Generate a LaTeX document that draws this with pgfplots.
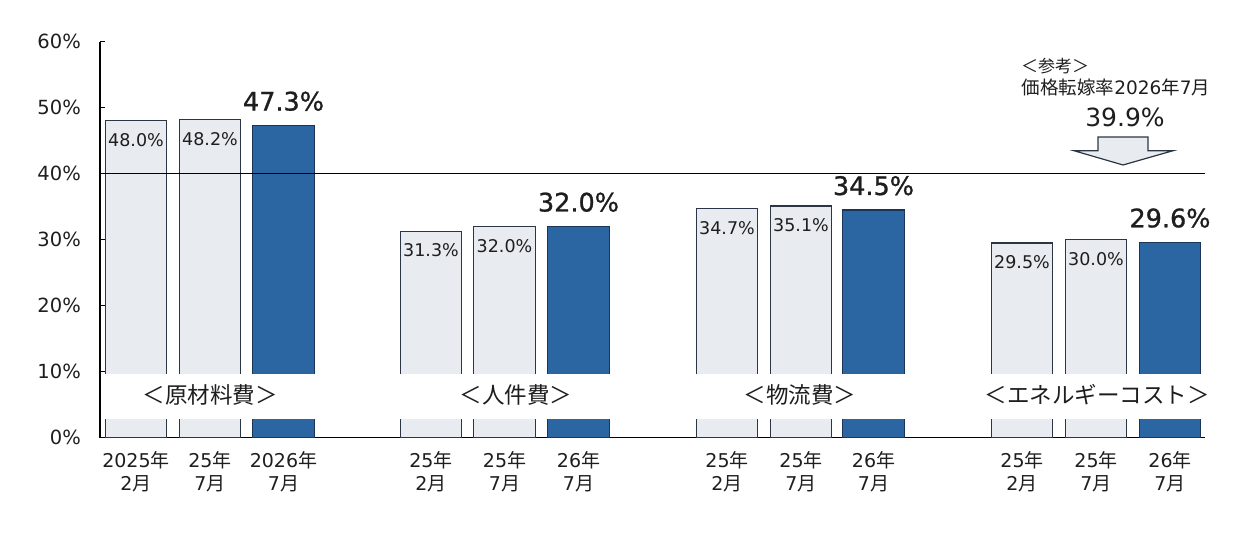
\documentclass[border=0pt]{standalone}
\usepackage{pgfplots}
\pgfplotsset{compat=1.18}
\usepackage{fontspec}
\setmainfont{DejaVu Sans}
\newfontfamily\jp{Noto Sans CJK JP}
\newfontfamily\semib[FakeBold=1]{DejaVu Sans}
\definecolor{lightbar}{HTML}{E8EBEF}
\definecolor{lightedge}{HTML}{2A3646}
\definecolor{darkbar}{HTML}{2B66A3}
\definecolor{darkedge}{HTML}{1B3556}
\definecolor{txt}{HTML}{1E1E1E}
\begin{document}
\begin{tikzpicture}[x=1pt,y=1pt]
\useasboundingbox (0,0) rectangle (1240,543);
\begin{axis}[
  at={(100pt,105.3pt)}, anchor=south west,
  scale only axis, width=1105pt, height=396pt,
  xmin=100, xmax=1205, ymin=0, ymax=60,
  axis lines*=left,
  axis line style={black, line width=1.5pt},
  clip=false,
  ybar, bar width=61.5,
  /pgf/number format/assume math mode=true,
  ytick={0,10,...,60},
  yticklabels={0\%,10\%,20\%,30\%,40\%,50\%,60\%},
  tick align=inside,
  major tick length=5pt,
  ytick style={black, line width=1.2pt},
  yticklabel style={anchor=east, inner sep=0pt, xshift=-19pt, font=\fontsize{19.5}{22}\selectfont, text=txt},
  xtick={136,210,283.5,431,504.5,578.5,727,801,873.5,1022,1096,1170},
  xticklabels={
    {2025{\jp 年}\\2{\jp 月}},{25{\jp 年}\\7{\jp 月}},{2026{\jp 年}\\7{\jp 月}},
    {25{\jp 年}\\2{\jp 月}},{25{\jp 年}\\7{\jp 月}},{26{\jp 年}\\7{\jp 月}},
    {25{\jp 年}\\2{\jp 月}},{25{\jp 年}\\7{\jp 月}},{26{\jp 年}\\7{\jp 月}},
    {25{\jp 年}\\2{\jp 月}},{25{\jp 年}\\7{\jp 月}},{26{\jp 年}\\7{\jp 月}}},
  xtick style={draw=none},
  xticklabel style={anchor=north, inner sep=0pt, yshift=-14pt, align=center, font=\fontsize{19}{23}\selectfont, text=txt},
]
% 2025年2月
\addplot[bar shift=0pt, fill=lightbar, draw=lightedge, line width=1.2pt,
  nodes near coords={\pgfmathprintnumber[fixed,fixed zerofill,precision=1]{\pgfplotspointmeta}\%},
  every node near coord/.append style={anchor=base, inner sep=0pt, yshift=-25.8pt, font=\fontsize{17.5}{20}\selectfont, text=txt}]
  coordinates {(136,48.0) (431,31.3) (727,34.7) (1022,29.5)};
% 25年7月
\addplot[bar shift=0pt, fill=lightbar, draw=lightedge, line width=1.2pt,
  nodes near coords={\pgfmathprintnumber[fixed,fixed zerofill,precision=1]{\pgfplotspointmeta}\%},
  every node near coord/.append style={anchor=base, inner sep=0pt, yshift=-25.8pt, font=\fontsize{17.5}{20}\selectfont, text=txt}]
  coordinates {(210,48.2) (504.5,32.0) (801,35.1) (1096,30.0)};
% 2026年7月
\addplot[bar shift=0pt, fill=darkbar, draw=darkedge, line width=1.2pt,
  nodes near coords={\pgfmathprintnumber[fixed,fixed zerofill,precision=1]{\pgfplotspointmeta}\%},
  every node near coord/.append style={anchor=base, inner sep=0pt, yshift=15pt, font=\semib\fontsize{25.5}{28}\selectfont, text=txt}]
  coordinates {(283.5,47.3) (578.5,32.0) (873.5,34.5) (1170,29.6)};
% white band
\fill[white] (axis cs:101.4,2.85) rectangle (axis cs:1205,9.6);
\begin{scope}[every node/.style={inner sep=0pt, text=txt, font=\jp\fontsize{22.5}{24}\selectfont}]
\node at (axis cs:210,6.47) {＜原材料費＞};
\node at (axis cs:516,6.47) {＜人件費＞};
\node at (axis cs:800,6.47) {＜物流費＞};
\node at (axis cs:1097,6.47) {＜エネルギーコスト＞};
\end{scope}
% 40% line
\draw[black, line width=1.4pt] (axis cs:100,40) -- (axis cs:1205,40);
% reference annotation
\node[inner sep=0pt, text=txt, font=\jp\fontsize{17}{19}\selectfont] at (axis cs:1055,56.3) {＜参考＞};
\node[inner sep=0pt, text=txt, font=\fontsize{18.5}{20}\selectfont] at (axis cs:1116,53.06) {{\jp 価格転嫁率}2026{\jp 年}7{\jp 月}};
\node[inner sep=0pt, text=txt, font=\fontsize{25}{28}\selectfont] at (axis cs:1125,48.6) {39.9\%};
\filldraw[fill=lightbar, draw=lightedge, line width=1.2pt]
  (axis cs:1098,45.56) -- (axis cs:1148,45.56) -- (axis cs:1148,43.48) -- (axis cs:1173,43.48)
  -- (axis cs:1123,41.32) -- (axis cs:1074,43.48) -- (axis cs:1098,43.48) -- cycle;
\end{axis}
\end{tikzpicture}
\end{document}
